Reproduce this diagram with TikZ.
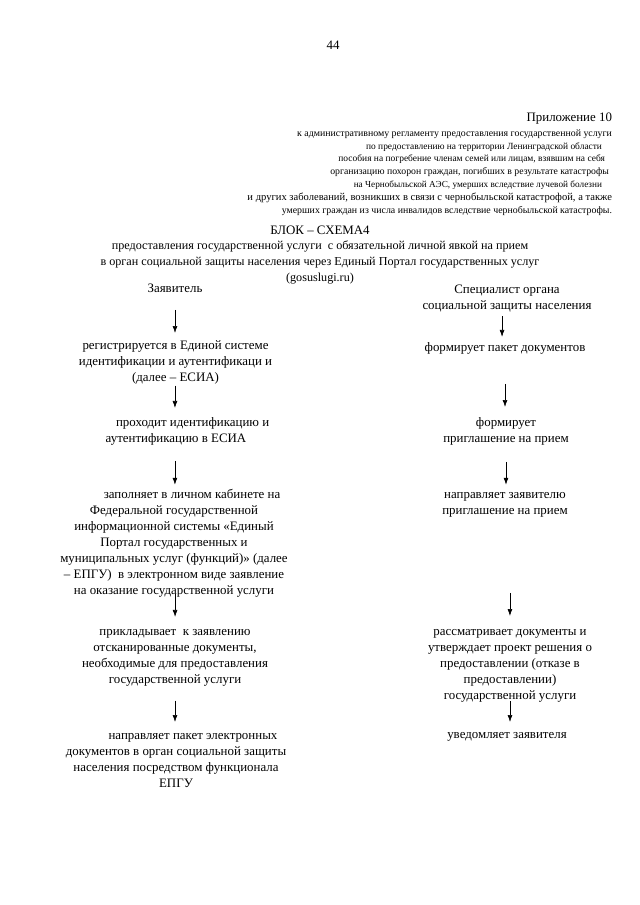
\documentclass[tikz,border=0pt]{standalone}
\usepackage{fontspec}
\setmainfont{Liberation Serif}
\usetikzlibrary{arrows.meta}
\begin{document}
\begin{tikzpicture}[x=0.9301pt, y=-0.9301pt,
  every node/.style={inner sep=0pt, outer sep=0pt},
  body/.style={font=\fontsize{12}{14.8}\selectfont, align=center, anchor=north},
  single/.style={font=\fontsize{12}{14.8}\selectfont, anchor=base},
  hdr/.style={font=\fontsize{#1}{11.9}\selectfont, anchor=base east},
  arr/.style={-{Latex[length=6.5pt,width=4.5pt]}, line width=0.6pt}]
\useasboundingbox (0,0) rectangle (640,905);
\fill[white] (0,0) rectangle (640,905);

\node[single] (pg) at (333,49) {44};
\node[single, anchor=base east] (app) at (612,121) {Приложение 10};
\node[hdr=9.18] (h1) at (612,136) {к  административному регламенту предоставления государственной услуги};
\node[hdr=8.75] (h2) at (602,149) {по предоставлению на территории Ленинградской области};
\node[hdr=8.8] (h3) at (605,161) {пособия на погребение членам семей или лицам, взявшим на себя};
\node[hdr=9.07] (h4) at (609,174) {организацию похорон граждан, погибших в результате катастрофы};
\node[hdr=8.6] (h5) at (602,187) {на Чернобыльской АЭС, умерших вследствие лучевой болезни};
\node[hdr=9.82] (h6) at (612,200) {и других заболеваний, возникших в связи с чернобыльской катастрофой, а также};
\node[hdr=9.18] (h7) at (612,213) {умерших  граждан из числа инвалидов вследствие чернобыльской катастрофы.};

\node[single] (title) at (320,234) {БЛОК – СХЕМА4};
\node[body, font=\fontsize{11.3}{14.8}\selectfont] (sub) at (320,238.8) {\strut предоставления государственной услуги\ \ с обязательной личной явкой на прием\\в орган социальной защиты населения через Единый Портал государственных услуг\\(gosuslugi.ru)\strut};

% left column
\node[single] (zay) at (175,292) {\strut Заявитель};
\node[body] (reg) at (175.5,338.8) {\strut регистрируется в Единой системе\\идентификации и аутентификаци и\\(далее – ЕСИА)\strut};
\node[body] (pass) at (176,415.8) {\strut\hspace*{31pt}проходит идентификацию и\\аутентификацию в ЕСИА\strut};
\node[body] (fill) at (174,487.8) {\strut\hspace*{33.5pt}заполняет в личном кабинете на\\Федеральной государственной\\информационной системы «Единый\\Портал государственных и\\муниципальных услуг (функций)» (далее\\– ЕПГУ)\ \ в электронном виде заявление\\на оказание государственной услуги\strut};
\node[body] (att) at (175,624.8) {\strut прикладывает\ \ к заявлению\\отсканированные документы,\\необходимые для предоставления\\государственной услуги\strut};
\node[body] (send) at (176,728.8) {\strut\hspace*{31.6pt}направляет пакет электронных\\документов в орган социальной защиты\\населения посредством функционала\\ЕПГУ\strut};

% right column
\node[body] (spec) at (507,282) {\strut Специалист органа\\социальной защиты населения\strut};
\node[body] (form1) at (505,340.8) {\strut формирует пакет документов\strut};
\node[body] (form2) at (506,415.8) {\strut формирует\\приглашение на прием\strut};
\node[body] (inv) at (505,487.8) {\strut направляет заявителю\\приглашение на прием\strut};
\node[body] (rev) at (510,624.8) {\strut рассматривает документы и\\утверждает проект решения о\\предоставлении (отказе в\\предоставлении)\\государственной услуги\strut};
\node[body] (note) at (507,727.8) {\strut уведомляет заявителя\strut};

% left arrows
\draw[arr, shorten <=12.2pt, shorten >=5.4pt] (zay.south) -- (zay.south |- reg.north);
\draw[arr, shorten <=-0.8pt, shorten >=7.3pt] ([xshift=-0.5pt]reg.south) -- ([xshift=-0.5pt]reg.south |- pass.north);
\draw[arr, shorten <=12.3pt, shorten >=2.8pt] ([xshift=-1pt]pass.south) -- ([xshift=-1pt]pass.south |- fill.north);
\draw[arr, shorten <=-4.5pt, shorten >=7.3pt] ([xshift=1pt]fill.south) -- ([xshift=1pt]fill.south |- att.north);
\draw[arr, shorten <=11.3pt, shorten >=6.3pt] (att.south) -- (att.south |- send.north);

% right arrows
\draw[arr, shorten <=2.1pt, shorten >=3.6pt] ([xshift=-4.6pt]spec.south) -- ([xshift=-4.6pt]spec.south |- form1.north);
\draw[arr, shorten <=25.3pt, shorten >=8.2pt] (form1.south) -- (form1.south |- form2.north);
\draw[arr, shorten <=13.2pt, shorten >=2.8pt] (form2.south) -- (form2.south |- inv.north);
\draw[arr, shorten <=68.1pt, shorten >=8.2pt] ([xshift=4.6pt]inv.south) -- ([xshift=4.6pt]inv.south |- rev.north);
\draw[arr, shorten <=-2.8pt, shorten >=5.4pt] (rev.south) -- (rev.south |- note.north);
\end{tikzpicture}
\end{document}
